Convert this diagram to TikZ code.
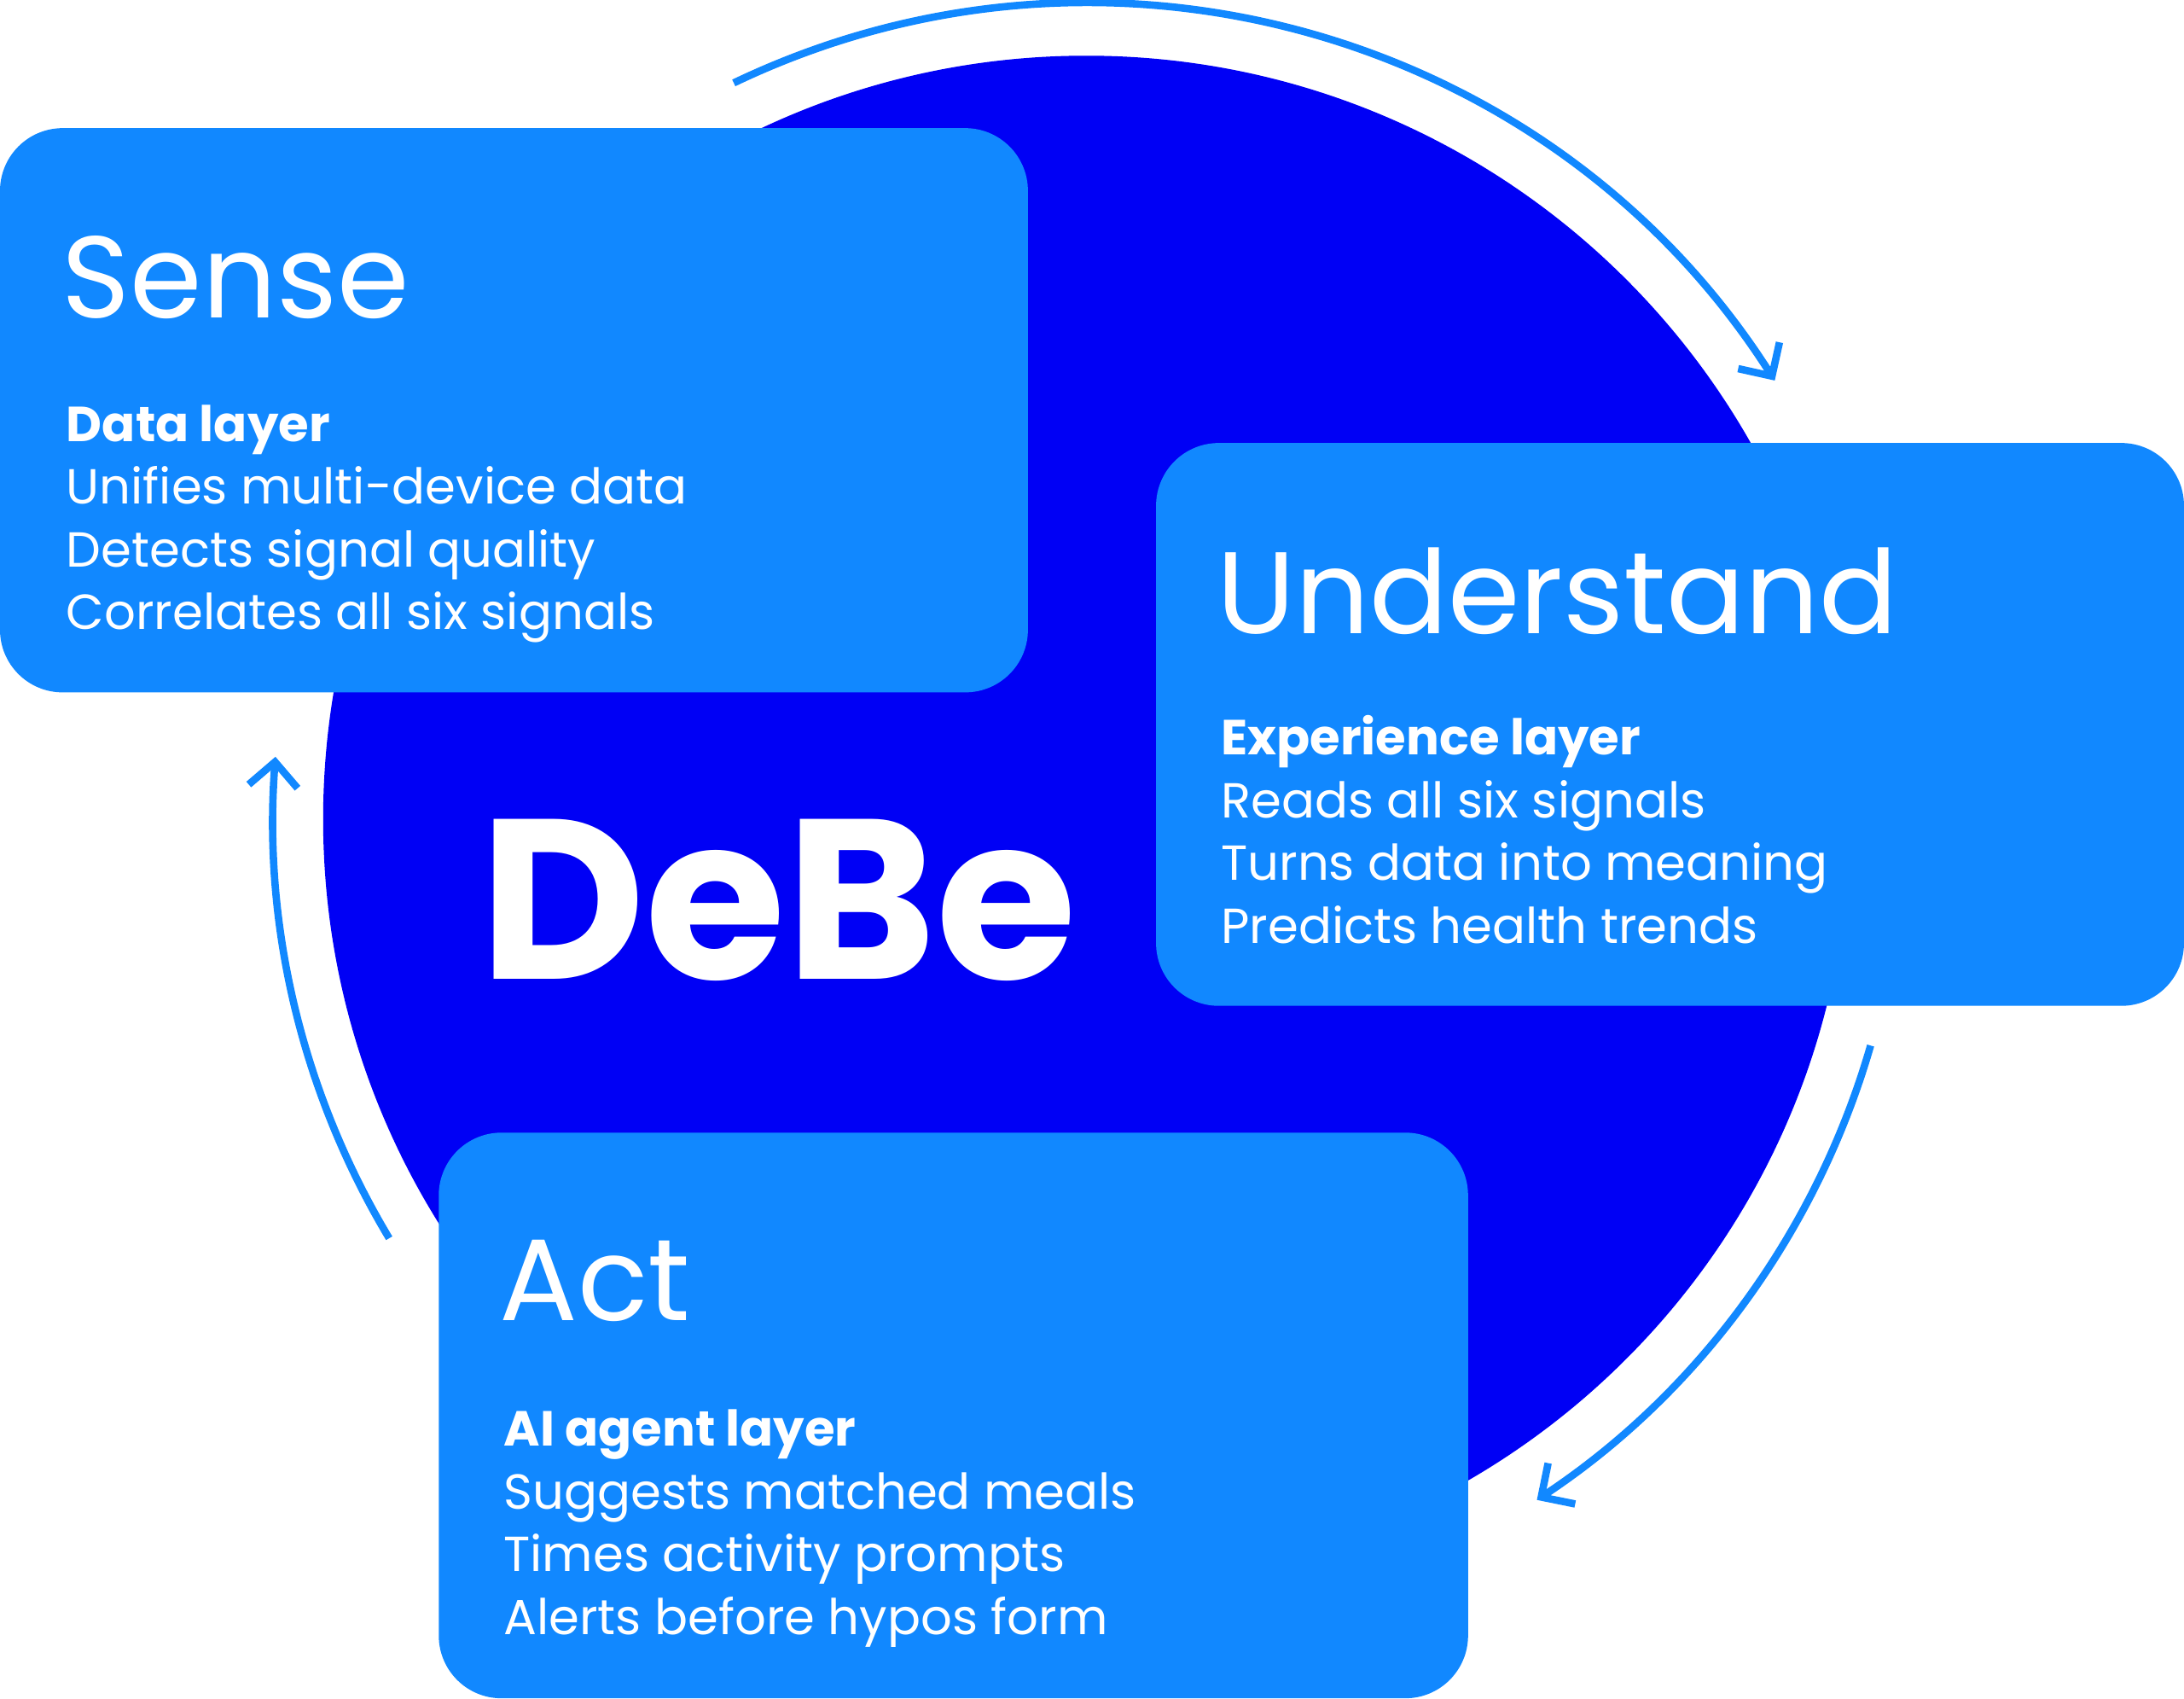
\documentclass[tikz,border=0pt]{standalone}
\usepackage{fontspec}
\setmainfont{Poppins}
\usetikzlibrary{positioning, arrows.meta, calc}
\definecolor{deepblue}{HTML}{0000F5}
\definecolor{boxblue}{HTML}{1188FF}
\begin{document}
\begin{tikzpicture}[x=0.01cm, y=0.01cm]
        % styles for the cycle
        \tikzstyle{layer}=[fill=boxblue, rounded corners=0.45cm, draw=none]
        \tikzstyle{title}=[anchor=base west, inner sep=0, text=white, font=\fontsize{23.7}{28}\selectfont]
        \tikzstyle{item}=[anchor=base west, inner sep=0, text=white, font=\fontsize{10.05}{12.8}\selectfont]
        \tikzstyle{flow}=[draw=boxblue, line width=1.5pt, -{Straight Barb[length=5pt, width=10pt]}]

        \useasboundingbox (0,0) rectangle (1568,1219);
        \coordinate (o) at (780,631);
        \fill[deepblue] (o) circle (548);

        % the three arcs
        \draw[flow] ($(o)+(115.6:586)$) arc (115.6:32.5:586);
        \draw[flow] ($(o)+(-16.1:586)$) arc (-16.1:-56.5:586);
        \draw[flow] ($(o)+(211:584)$) arc (211:175.6:584);

        % boxes
        \fill[layer] (0,722) rectangle (738,1127);
        \fill[layer] (830,497) rectangle (1568,901);
        \fill[layer] (315,0) rectangle (1054,406);

        \node[anchor=base west, inner sep=0, text=white, font=\fontsize{46.5}{50}\selectfont\bfseries] (debe) at (344,516) {DeBe};

        \node[title] (sense) at (44,991) {Sense};
        \node[item] (s0) at (47,902) {\bfseries Data layer};
        \node[item] (s1) at (47,857) {Unifies multi-device data};
        \node[item] (s2) at (47,812) {Detects signal quality};
        \node[item] (s3) at (47,767) {Correlates all six signals};

        \node[title] (understand) at (873,764) {Understand};
        \node[item] (u0) at (876,677) {\bfseries Experience layer};
        \node[item] (u1) at (876,632) {Reads all six signals};
        \node[item] (u2) at (876,587) {Turns data into meaning};
        \node[item] (u3) at (876,542) {Predicts health trends};

        \node[title] (act) at (358,271) {Act};
        \node[item] (a0) at (361,181) {\bfseries AI agent layer};
        \node[item] (a1) at (361,136) {Suggests matched meals};
        \node[item] (a2) at (361,91) {Times activity prompts};
        \node[item] (a3) at (361,46) {Alerts before hypos form};
      \end{tikzpicture}
\end{document}
